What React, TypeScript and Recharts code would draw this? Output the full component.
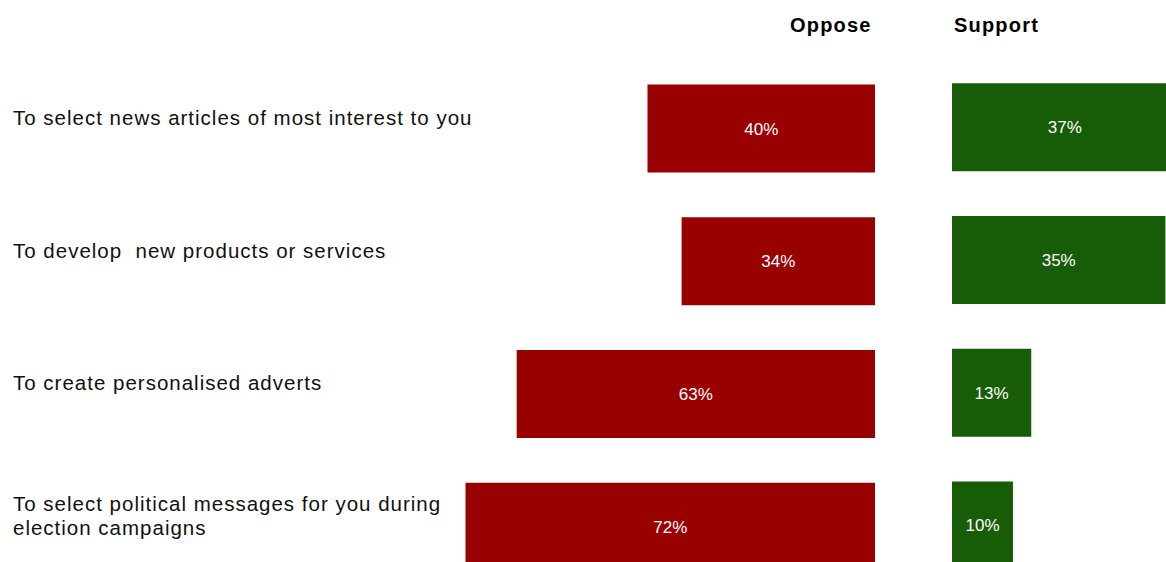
import React from 'react'
import { BarChart, Bar, XAxis, YAxis, LabelList } from 'recharts'

const categories = [
  'To select news articles of most interest to you',
  'To develop  new products or services',
  'To create personalised adverts',
  'To select political messages for you during\nelection campaigns',
]
const opposeValues = [40, 34, 63, 72]
const supportValues = [37, 35, 13, 10]

const FONT = '"Liberation Sans", Arial, sans-serif'
const RED = '#990000'
const GREEN = '#175d07'

const data = categories.map((name, i) => ({
  name,
  oppose: opposeValues[i],
  support: supportValues[i],
}))

const fmt = (v: any) => `${v}%`

// left aligned category text, multi-line labels split on \n
const CategoryTick = ({ y, payload }: any) => {
  const lines = String(payload.value).split('\n')
  const first = y - 4 - (lines.length - 1) * 12.25
  return (
    <text
      x={13}
      y={first}
      fill="#111"
      fontSize={20.5}
      letterSpacing={1}
      fontFamily={FONT}
      textAnchor="start"
      style={{ whiteSpace: 'pre' }}
    >
      {lines.map((l, i) => (
        <tspan key={i} x={13} y={first + i * 24.5}>
          {l}
        </tspan>
      ))}
    </text>
  )
}

const header: React.CSSProperties = {
  position: 'absolute',
  top: 14,
  fontSize: 20,
  fontWeight: 'bold',
  letterSpacing: 1.2,
  color: '#000',
}

export default function App() {
  return (
    <div
      style={{
        position: 'absolute',
        left: 0,
        top: 0,
        width: 1166,
        height: 562,
        overflow: 'hidden',
        background: '#fff',
        fontFamily: FONT,
      }}
    >
      <div style={{ ...header, left: 790 }}>Oppose</div>
      <div style={{ ...header, left: 954 }}>Support</div>

      <div style={{ position: 'absolute', left: 0, top: 0 }}>
        <BarChart
          layout="vertical"
          width={875}
          height={600}
          data={data}
          margin={{ top: 62.6, right: 0, bottom: 6.6, left: 0 }}
        >
          <XAxis type="number" domain={[0, 80]} reversed hide />
          <YAxis
            type="category"
            dataKey="name"
            width={420}
            axisLine={false}
            tickLine={false}
            tick={<CategoryTick />}
            interval={0}
          />
          <Bar dataKey="oppose" fill={RED} barSize={88} isAnimationActive={false}>
            <LabelList dataKey="oppose" position="center" formatter={fmt} fill="#fff" fontSize={17} fontFamily={FONT} />
          </Bar>
        </BarChart>
      </div>

      <div style={{ position: 'absolute', left: 952, top: 0 }}>
        <BarChart
          layout="vertical"
          width={250}
          height={600}
          data={data}
          margin={{ top: 61.3, right: 0, bottom: 7.9, left: 0 }}
        >
          <XAxis type="number" domain={[0, 41]} hide />
          <YAxis type="category" dataKey="name" hide />
          <Bar dataKey="support" fill={GREEN} barSize={88} isAnimationActive={false}>
            <LabelList dataKey="support" position="center" formatter={fmt} fill="#fff" fontSize={17} fontFamily={FONT} />
          </Bar>
        </BarChart>
      </div>
    </div>
  )
}
